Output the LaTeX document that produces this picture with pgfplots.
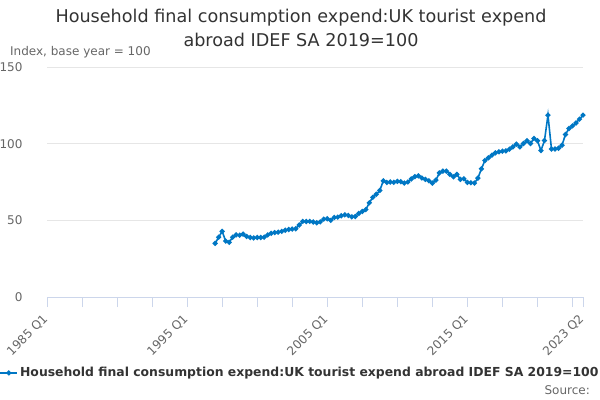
\documentclass[border=0pt]{standalone}
\usepackage{fontspec}
\setmainfont{DejaVu Sans}
\usepackage{pgfplots}
\pgfplotsset{compat=1.18}
\definecolor{titlec}{HTML}{333333}
\definecolor{labc}{HTML}{666666}
\definecolor{gridc}{HTML}{E6E6E6}
\definecolor{axc}{HTML}{CCD6EB}
\definecolor{linec}{HTML}{0077C4}
\begin{document}
\begin{tikzpicture}
\path[use as bounding box] (0,0) rectangle (600bp,400bp);
\node[font=\fontsize{17.6bp}{21bp}\selectfont, text=titlec] at (301bp,382bp) {Household final consumption expend:UK tourist expend};
\node[font=\fontsize{17.6bp}{21bp}\selectfont, text=titlec] at (301bp,360bp) {abroad IDEF SA 2019=100};
\node[font=\fontsize{12bp}{14bp}\selectfont, text=labc, anchor=west, inner sep=0pt] at (10bp,348bp) {Index, base year = 100};
\node[font=\fontsize{12bp}{14bp}\selectfont, text=labc, anchor=east, inner sep=0pt] at (590bp,10bp) {Source:};
\begin{axis}[
  at={(47bp,103bp)}, anchor=south west,
  scale only axis, width=536bp, height=230bp,
  xmin=0, xmax=153, ymin=0, ymax=150,
  axis x line=bottom, axis y line=left,
  axis line style={-},
  x axis line style={draw=axc},
  y axis line style={draw=none},
  xtick={0,40,80,120,153},
  xticklabels={1985 Q1,1995 Q1,2005 Q1,2015 Q1,2023 Q2},
  minor xtick={10,20,30,50,60,70,90,100,110,130,140,150},
  tick align=outside,
  major tick length=10bp, minor tick length=10bp,
  xtick style={draw=axc},
  minor tick style={draw=axc},
  ytick={0,50,100,150},
  ytick style={draw=none},
  ymajorgrids, major grid style={draw=gridc},
  /pgf/number format/assume math mode=true,
  ticklabel style={font=\fontsize{12bp}{14bp}\selectfont, text=labc},
  yticklabel style={xshift=-11bp},
  xticklabel style={rotate=45, anchor=east, xshift=-4.5bp, yshift=-6.2bp},
  legend style={at={(0.472,-0.330)}, anchor=center, draw=none, fill=none,
    font=\fontsize{12.4bp}{14bp}\selectfont\bfseries, text=titlec},
  legend cell align=left,
]
\addplot[color=linec, line width=1.6bp, mark=*, mark size=1.7bp, mark options={solid}] table[x=x,y=y] {
x y
48 35
49 39
50 42.8
51 36.5
52 35.7
53 39
54 40.5
55 40.3
56 41
57 39.5
58 38.8
59 38.5
60 38.8
61 38.8
62 39
63 40.5
64 41.5
65 42
66 42.3
67 42.8
68 43.5
69 44
70 44.3
71 44.5
72 47
73 49.3
74 49.2
75 49.3
76 48.9
77 48.4
78 49
79 50.8
80 51
81 50
82 51.9
83 52.1
84 53
85 53.6
86 53.2
87 52.3
88 52.5
89 54.5
90 55.8
91 57
92 61.4
93 65
94 67
95 69.5
96 75.8
97 74.7
98 75
99 74.8
100 75.4
101 75.2
102 74.3
103 75
104 77
105 78.5
106 79
107 77.6
108 76.7
109 75.8
110 74.3
111 76.2
112 80.9
113 82.1
114 82.1
115 80
116 78.4
117 80
118 76.7
119 77.1
120 74.7
121 74.5
122 74.3
123 77.5
124 83.6
125 89
126 90.8
127 92.5
128 94
129 94.7
130 95.1
131 95.3
132 96.4
133 97.9
134 99.7
135 97.9
136 100.1
137 101.9
138 100.1
139 103.4
140 101.9
141 95.5
142 102
143 118.6
144 96.5
145 96.5
146 97
147 99
148 106
149 109.9
150 111.6
151 113.5
152 116
153 118.6
};
\addlegendentry{Household final consumption expend:UK tourist expend abroad IDEF SA 2019=100}
\end{axis}
\end{tikzpicture}
\end{document}
